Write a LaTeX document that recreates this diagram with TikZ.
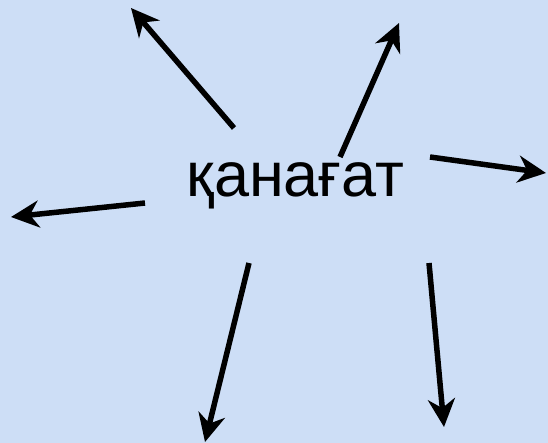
\documentclass[tikz,border=0pt]{standalone}
\usepackage{fontspec}
\setmainfont{Liberation Sans}
\usetikzlibrary{arrows.meta}
\definecolor{paper}{RGB}{205,222,246}

\begin{document}
\begin{tikzpicture}[x=1pt,y=-1pt,every node/.style={font=\fontsize{63}{70}\selectfont},
  ray/.style={line width=5.5pt,-{Stealth[length=28pt,width=27pt,inset=9pt]}}]
\fill[paper] (0,0) rectangle (548,443);
\useasboundingbox (0,0) rectangle (548,443);
\node[inner sep=0pt,anchor=base] (word) at (295.5,197) {қанағат};
% starting points next to the word
\coordinate (s1) at (234,128);
\coordinate (s2) at (340,157);
\coordinate (s3) at (430,157);
\coordinate (s4) at (145,203);
\coordinate (s5) at (249,263);
\coordinate (s6) at (429,263);
% arrow tips
\coordinate (t1) at (131,8);
\coordinate (t2) at (399,23);
\coordinate (t3) at (546,173);
\coordinate (t4) at (11,217);
\coordinate (t5) at (205,442);
\coordinate (t6) at (444,427);
\draw[ray] (s1)--(t1);
\draw[ray] (s2)--(t2);
\draw[ray] (s3)--(t3);
\draw[ray] (s4)--(t4);
\draw[ray] (s5)--(t5);
\draw[ray] (s6)--(t6);
\end{tikzpicture}
\end{document}
